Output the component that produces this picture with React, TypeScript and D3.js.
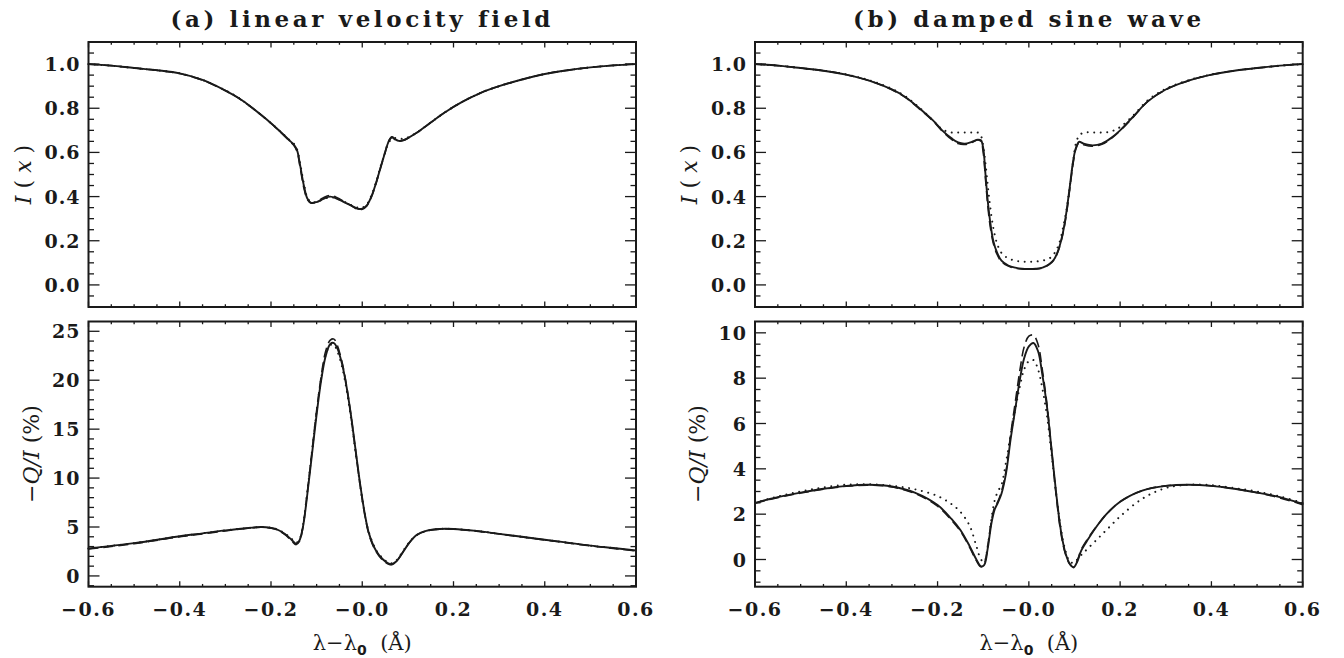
import React from 'react';
import * as d3 from 'd3';

// ---------- data ----------
const xMajor = [-0.6, -0.4, -0.2, 0.0, 0.2, 0.4, 0.6];
const xMajorLabels = ['−0.6', '−0.4', '−0.2', '−0.0', '0.2', '0.4', '0.6'];

const titles = ['(a) linear velocity field', '(b) damped sine wave'];

const topYMajor = [0.0, 0.2, 0.4, 0.6, 0.8, 1.0];
const topYLabels = ['0.0', '0.2', '0.4', '0.6', '0.8', '1.0'];
const botAYMajor = [0, 5, 10, 15, 20, 25];
const botAYLabels = ['0', '5', '10', '15', '20', '25'];
const botBYMajor = [0, 2, 4, 6, 8, 10];
const botBYLabels = ['0', '2', '4', '6', '8', '10'];

// Panel (a) intensity
const lamAI = [-0.6,-0.55,-0.5,-0.45,-0.4,-0.35,-0.3,-0.27,-0.24,-0.21,-0.18,-0.16,-0.15,-0.143,-0.136,-0.128,-0.12,-0.112,-0.1,-0.085,-0.07,-0.055,-0.04,-0.025,-0.01,0.0,0.01,0.02,0.03,0.04,0.05,0.058,0.065,0.072,0.08,0.09,0.1,0.12,0.15,0.18,0.22,0.26,0.3,0.35,0.4,0.45,0.5,0.55,0.6];
const aISolid = [1.0,0.993,0.982,0.972,0.958,0.928,0.88,0.845,0.80,0.75, 0.695,0.655,0.635,0.61,0.54,0.45,0.39,0.372,0.375,0.39, 0.40,0.39,0.375,0.36,0.345,0.345,0.36,0.40,0.46,0.53, 0.60,0.65,0.67,0.66,0.652,0.655,0.665,0.69,0.735,0.78, 0.83,0.87,0.90,0.93,0.955,0.972,0.985,0.994,1.0];
const aIDashed = [1.0,0.993,0.982,0.972,0.957,0.927,0.88,0.844,0.80,0.75, 0.694,0.653,0.632,0.605,0.53,0.44,0.385,0.37,0.377,0.395, 0.405,0.395,0.378,0.36,0.342,0.343,0.358,0.398,0.458,0.53, 0.60,0.652,0.668,0.658,0.65,0.655,0.664,0.69,0.735,0.78, 0.83,0.87,0.90,0.93,0.955,0.972,0.985,0.994,1.0];
const aIDotted = [1.0,0.993,0.982,0.972,0.958,0.928,0.881,0.846,0.80,0.75, 0.696,0.657,0.64,0.615,0.55,0.46,0.395,0.375,0.375,0.388, 0.397,0.39,0.377,0.362,0.35,0.35,0.365,0.405,0.465,0.535, 0.60,0.645,0.66,0.665,0.662,0.662,0.668,0.69,0.735,0.78, 0.83,0.87,0.90,0.93,0.955,0.972,0.985,0.994,1.0];

// Panel (a) polarization
const lamAQ = [-0.6,-0.5,-0.4,-0.35,-0.3,-0.25,-0.22,-0.19,-0.17,-0.155, -0.145,-0.138,-0.13,-0.12,-0.11,-0.1,-0.09,-0.08,-0.07,-0.062, -0.055,-0.045,-0.035,-0.025,-0.015,-0.005,0.005,0.015,0.03,0.045, 0.058,0.065,0.075,0.09,0.105,0.12,0.14,0.17,0.2,0.25, 0.3,0.35,0.4,0.45,0.5,0.55,0.6];
const aQSolid = [2.8,3.35,4.05,4.35,4.65,4.9,5.0,4.8,4.3,3.7, 3.3,3.6,5.0,8.5,12.5,16.5,20.0,22.5,23.7,23.8, 23.3,21.8,19.5,16.5,13.0,9.5,6.5,4.3,2.6,1.7, 1.25,1.2,1.5,2.5,3.5,4.2,4.6,4.8,4.8,4.6, 4.3,4.0,3.7,3.4,3.1,2.85,2.6];
const aQDashed = [2.75,3.3,4.0,4.3,4.6,4.88,4.98,4.78,4.25,3.6, 3.2,3.5,5.0,8.7,12.8,16.9,20.4,23.0,24.1,24.2, 23.6,22.0,19.6,16.5,12.9,9.4,6.4,4.2,2.5,1.6, 1.2,1.15,1.5,2.5,3.5,4.2,4.6,4.78,4.78,4.58, 4.28,3.98,3.68,3.38,3.08,2.82,2.55];
const aQDotted = [2.8,3.35,4.05,4.35,4.65,4.9,5.0,4.82,4.35,3.8, 3.4,3.7,5.2,8.8,12.8,16.8,20.2,22.6,23.6,23.6, 23.0,21.5,19.2,16.2,12.8,9.4,6.5,4.4,2.7,1.8, 1.35,1.3,1.6,2.6,3.55,4.2,4.6,4.8,4.8,4.6, 4.3,4.0,3.7,3.4,3.1,2.85,2.6];

// Panel (b) intensity
const lamBI = [-0.6,-0.55,-0.5,-0.45,-0.4,-0.35,-0.3,-0.27,-0.24,-0.21, -0.19,-0.17,-0.155,-0.14,-0.125,-0.112,-0.105,-0.1,-0.095,-0.09, -0.085,-0.078,-0.07,-0.06,-0.045,-0.03,-0.015,0,0.015,0.03, 0.045,0.055,0.065,0.075,0.083,0.09,0.097,0.103,0.11,0.12, 0.14,0.16,0.18,0.2,0.23,0.26,0.3,0.35,0.4,0.45, 0.5,0.55,0.6];
const bISolid = [1.0,0.993,0.982,0.97,0.952,0.925,0.885,0.85,0.80,0.745, 0.70,0.665,0.645,0.64,0.648,0.658,0.655,0.62,0.5,0.38, 0.29,0.2,0.148,0.11,0.088,0.078,0.073,0.072,0.073,0.078, 0.095,0.115,0.16,0.24,0.34,0.45,0.56,0.62,0.648,0.64, 0.632,0.64,0.665,0.70,0.765,0.83,0.885,0.925,0.952,0.97, 0.982,0.993,1.0];
const bIDashed = [1.0,0.993,0.982,0.97,0.952,0.925,0.884,0.848,0.797,0.742, 0.697,0.66,0.64,0.636,0.645,0.656,0.65,0.6,0.48,0.36, 0.27,0.19,0.14,0.105,0.085,0.076,0.072,0.071,0.072,0.077, 0.093,0.113,0.158,0.235,0.33,0.44,0.55,0.615,0.643,0.635, 0.628,0.637,0.662,0.698,0.763,0.83,0.884,0.925,0.952,0.97, 0.982,0.993,1.0];
const bIDotted = [1.0,0.993,0.982,0.97,0.953,0.927,0.888,0.853,0.803,0.745, 0.705,0.69,0.69,0.69,0.69,0.69,0.675,0.63,0.55,0.45, 0.36,0.26,0.19,0.145,0.12,0.11,0.106,0.105,0.106,0.11, 0.12,0.14,0.18,0.26,0.35,0.45,0.56,0.64,0.675,0.69, 0.69,0.69,0.695,0.715,0.77,0.835,0.888,0.927,0.953,0.97, 0.982,0.993,1.0];

// Panel (b) polarization
const lamBQ = [-0.6,-0.55,-0.5,-0.45,-0.4,-0.35,-0.3,-0.25,-0.2,-0.17, -0.15,-0.13,-0.115,-0.105,-0.098,-0.09,-0.082,-0.075,-0.068,-0.06, -0.05,-0.04,-0.03,-0.02,-0.01,0,0.01,0.02,0.03,0.04, 0.05,0.06,0.07,0.08,0.09,0.098,0.106,0.115,0.13,0.15, 0.17,0.2,0.25,0.3,0.35,0.4,0.45,0.5,0.55,0.6];
const bQSolid = [2.5,2.75,2.95,3.12,3.25,3.3,3.22,2.95,2.4,1.8, 1.3,0.6,0.0,-0.3,-0.25,0.5,1.6,2.2,2.5,2.9, 3.8,5.3,6.6,7.9,8.9,9.4,9.55,9.2,8.1,6.7, 4.8,2.9,1.3,0.3,-0.2,-0.35,-0.1,0.4,0.9,1.5, 2.0,2.55,3.05,3.25,3.3,3.25,3.12,2.95,2.75,2.45];
const bQDashed = [2.48,2.73,2.93,3.1,3.23,3.28,3.2,2.92,2.35,1.75, 1.25,0.55,-0.05,-0.32,-0.2,0.6,1.7,2.3,2.55,3.0, 3.9,5.5,6.9,8.3,9.4,9.85,9.9,9.5,8.3,6.8, 4.8,2.8,1.2,0.25,-0.22,-0.33,-0.05,0.45,0.95,1.5, 2.0,2.55,3.05,3.25,3.3,3.25,3.12,2.95,2.72,2.42];
const bQDotted = [2.5,2.78,3.0,3.18,3.3,3.32,3.25,3.1,2.8,2.45, 2.1,1.5,0.6,0.0,-0.1,0.6,1.8,2.6,3.0,3.3, 4.3,5.5,6.6,7.6,8.4,8.75,8.8,8.4,7.5,6.3, 4.6,2.9,1.4,0.4,-0.1,-0.15,0.0,0.2,0.5,0.9, 1.3,1.9,2.7,3.15,3.3,3.28,3.15,3.0,2.78,2.5];

// ---------- layout ----------
const W = 1344, H = 658;
const COLS = [{ x0: 88.5, x1: 636 }, { x0: 755, x1: 1302.7 }];
const ROWS = [{ y0: 42, y1: 307 }, { y0: 321.5, y1: 586.7 }];
const FONT = "'DejaVu Serif', 'Liberation Serif', serif";
const INK = '#1a1a1a';

type Series = { lam: number[]; vals: number[]; style: 'solid' | 'dashed' | 'dotted' };

function range(a: number, b: number, step: number) {
  const out: number[] = [];
  const n = Math.round((b - a) / step);
  for (let i = 0; i <= n; i++) out.push(+(a + i * step).toFixed(6));
  return out;
}

function Panel(props: {
  col: number; row: number; yDomain: [number, number]; yMajor: number[]; yLabels: string[];
  yMinorStep: number; showX: boolean; series: Series[]; ylabel: React.ReactNode; ylabelOffset: number;
}) {
  const { x0, x1 } = COLS[props.col];
  const { y0, y1 } = ROWS[props.row];
  const x = d3.scaleLinear().domain([-0.6, 0.6]).range([x0, x1]);
  const y = d3.scaleLinear().domain(props.yDomain).range([y1, y0]);
  const xMinor = range(-0.6, 0.6, 0.05);
  const yMinor = range(Math.ceil(props.yDomain[0] / props.yMinorStep) * props.yMinorStep,
    Math.floor(props.yDomain[1] / props.yMinorStep) * props.yMinorStep, props.yMinorStep)
    .filter(v => v > props.yDomain[0] + 1e-6 && v < props.yDomain[1] - 1e-6);
  const xTL = 5.5, yTL = 11;
  const line = d3.line<[number, number]>().x(d => x(d[0])).y(d => y(d[1])).curve(d3.curveCatmullRom.alpha(0.5));
  const styleOf = (s: Series['style']) => {
    if (s === 'dashed') return { strokeWidth: 1.6, strokeDasharray: '10,5', strokeLinecap: 'butt' as const };
    if (s === 'dotted') return { strokeWidth: 2, strokeDasharray: '0.01,6.5', strokeLinecap: 'round' as const };
    return { strokeWidth: 1.9, strokeDasharray: undefined, strokeLinecap: 'round' as const };
  };
  const order: Series['style'][] = ['dotted', 'dashed', 'solid'];
  const sorted = [...props.series].sort((a, b) => order.indexOf(a.style) - order.indexOf(b.style));
  return (
    <g>
      {sorted.map((s, i) => {
        const pts = s.lam.map((l, j) => [l, s.vals[j]] as [number, number]);
        const st = styleOf(s.style);
        return <path key={i} d={line(pts) || ''} fill="none" stroke={INK} strokeWidth={st.strokeWidth}
          strokeDasharray={st.strokeDasharray} strokeLinecap={st.strokeLinecap} strokeLinejoin="round" />;
      })}
      {xMinor.map((v, i) => {
        const major = xMajor.some(m => Math.abs(m - v) < 1e-6);
        const l = major ? xTL : xTL / 2;
        return (
          <g key={'xt' + i} stroke={INK} strokeWidth={1.3}>
            <line x1={x(v)} x2={x(v)} y1={y1} y2={y1 - l} />
            <line x1={x(v)} x2={x(v)} y1={y0} y2={y0 + l} />
          </g>
        );
      })}
      {yMinor.map((v, i) => {
        const major = props.yMajor.some(m => Math.abs(m - v) < 1e-6);
        const l = major ? yTL : yTL / 2;
        return (
          <g key={'yt' + i} stroke={INK} strokeWidth={1.3}>
            <line x1={x0} x2={x0 + l} y1={y(v)} y2={y(v)} />
            <line x1={x1} x2={x1 - l} y1={y(v)} y2={y(v)} />
          </g>
        );
      })}
      <rect x={x0} y={y0} width={x1 - x0} height={y1 - y0} fill="none" stroke={INK} strokeWidth={2} />
      {props.yMajor.map((v, i) => (
        <text key={'yl' + i} x={x0 - 8} y={y(v) + 7} textAnchor="end" fontFamily={FONT} fontWeight="bold"
          fontSize={19} letterSpacing={1} fill={INK}>{props.yLabels[i]}</text>
      ))}
      {props.showX && xMajor.map((v, i) => (
        <text key={'xl' + i} x={x(v)} y={y1 + 29} textAnchor="middle" fontFamily={FONT} fontWeight="bold"
          fontSize={19} letterSpacing={1.5} fill={INK}>{xMajorLabels[i]}</text>
      ))}
      <text transform={`translate(${x0 - props.ylabelOffset},${(y0 + y1) / 2}) rotate(-90)`} textAnchor="middle"
        dominantBaseline="central" fontFamily={FONT} fontSize={22} fill={INK}>{props.ylabel}</text>
      {props.showX && (
        <text x={(x0 + x1) / 2} y={650} textAnchor="middle" fontFamily={FONT} fontSize={21} fill={INK}>
          λ−λ<tspan fontSize={14} dy={5} fontWeight="bold" fontFamily="'DejaVu Sans', sans-serif">0</tspan>
          <tspan dy={-5}>{'\u00a0\u00a0(Å)'}</tspan>
        </text>
      )}
    </g>
  );
}

const ILabel = (
  <>
    <tspan fontStyle="italic">I</tspan>
    <tspan>{' ( '}</tspan>
    <tspan fontStyle="italic">x</tspan>
    <tspan>{' )'}</tspan>
  </>
);
const QLabel = (
  <>
    <tspan>−</tspan>
    <tspan fontStyle="italic">Q/I</tspan>
    <tspan>{' (%)'}</tspan>
  </>
);

export default function App() {
  return (
    <svg width={W} height={H} style={{ position: 'absolute', left: 0, top: 0, background: '#fff' }}>
      <rect x={0} y={0} width={W} height={H} fill="#fff" />
      {titles.map((t, i) => (
        <text key={t} x={(COLS[i].x0 + COLS[i].x1) / 2} y={27} textAnchor="middle" fontFamily={FONT}
          fontWeight="bold" fontSize={23} letterSpacing={3.6} fill={INK}>{t}</text>
      ))}
      <Panel col={0} row={0} yDomain={[-0.1, 1.1]} yMajor={topYMajor} yLabels={topYLabels} yMinorStep={0.05}
        showX={false} ylabel={ILabel} ylabelOffset={66}
        series={[{ lam: lamAI, vals: aISolid, style: 'solid' }, { lam: lamAI, vals: aIDashed, style: 'dashed' }, { lam: lamAI, vals: aIDotted, style: 'dotted' }]} />
      <Panel col={0} row={1} yDomain={[-1.1, 26]} yMajor={botAYMajor} yLabels={botAYLabels} yMinorStep={1}
        showX={true} ylabel={QLabel} ylabelOffset={58}
        series={[{ lam: lamAQ, vals: aQSolid, style: 'solid' }, { lam: lamAQ, vals: aQDashed, style: 'dashed' }, { lam: lamAQ, vals: aQDotted, style: 'dotted' }]} />
      <Panel col={1} row={0} yDomain={[-0.1, 1.1]} yMajor={topYMajor} yLabels={topYLabels} yMinorStep={0.05}
        showX={false} ylabel={ILabel} ylabelOffset={66}
        series={[{ lam: lamBI, vals: bISolid, style: 'solid' }, { lam: lamBI, vals: bIDashed, style: 'dashed' }, { lam: lamBI, vals: bIDotted, style: 'dotted' }]} />
      <Panel col={1} row={1} yDomain={[-1.2, 10.5]} yMajor={botBYMajor} yLabels={botBYLabels} yMinorStep={0.5}
        showX={true} ylabel={QLabel} ylabelOffset={58}
        series={[{ lam: lamBQ, vals: bQSolid, style: 'solid' }, { lam: lamBQ, vals: bQDashed, style: 'dashed' }, { lam: lamBQ, vals: bQDotted, style: 'dotted' }]} />
    </svg>
  );
}
